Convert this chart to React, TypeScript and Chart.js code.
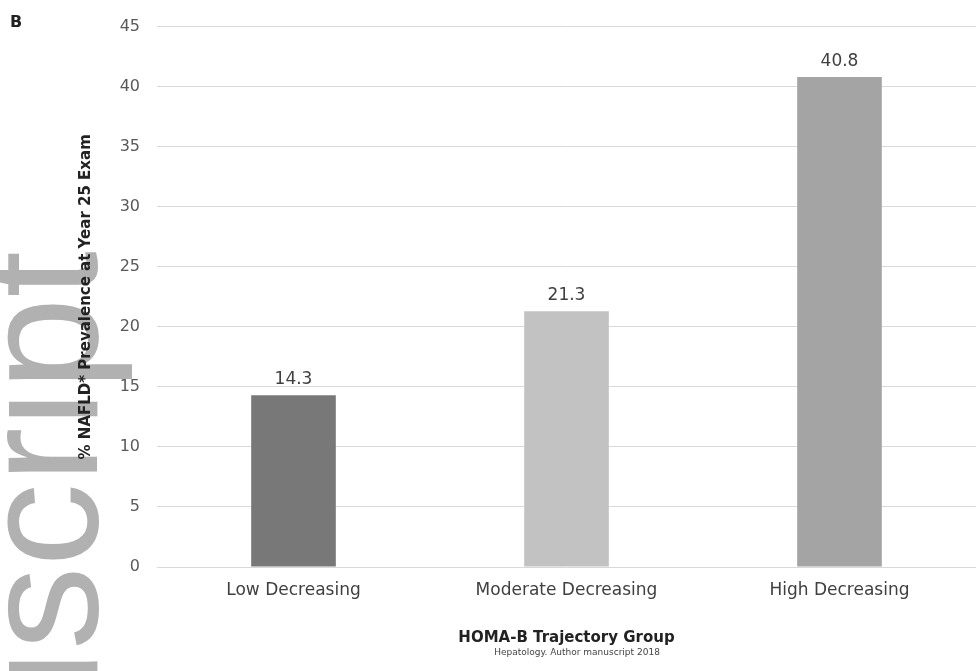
import React, { useEffect, useRef } from "react";
import { Chart, registerables } from "chart.js";

Chart.register(...registerables);

const categories = ["Low Decreasing", "Moderate Decreasing", "High Decreasing"];
const prevalence = [14.3, 21.3, 40.8];
const barColors = ["#787878", "#c2c2c2", "#a4a4a4"];
const yTitle = "% NAFLD* Prevalence at Year 25 Exam";
const xTitle = "HOMA-B Trajectory Group";
const footnote = "Hepatology. Author manuscript 2018";
const panelLabel = "B";
const watermark = "Manuscript";

const overlayPlugin = {
  id: "overlay",
  beforeDraw(chart: any) {
    const ctx = chart.ctx;
    ctx.save();
    ctx.font = "167px 'Liberation Sans', Arial, sans-serif";
    ctx.fillStyle = "#b1b1b1";
    const w = ctx.measureText("Manu").width;
    ctx.translate(97, 650 + w);
    ctx.rotate(-Math.PI / 2);
    ctx.textAlign = "left";
    ctx.textBaseline = "alphabetic";
    ctx.fillText(watermark, 0, 0);
    ctx.restore();
  },
  afterDraw(chart: any) {
    const ctx = chart.ctx;
    ctx.save();
    ctx.fillStyle = "#222";
    ctx.font = "bold 16px 'DejaVu Sans', sans-serif";
    ctx.textAlign = "left";
    ctx.textBaseline = "top";
    ctx.fillText(panelLabel, 10, 15);
    ctx.fillStyle = "#444";
    ctx.font = "9px 'DejaVu Sans', sans-serif";
    ctx.textAlign = "center";
    ctx.textBaseline = "middle";
    ctx.fillText(footnote, 577, 653);
    ctx.restore();
  },
  afterDatasetsDraw(chart: any) {
    const ctx = chart.ctx;
    const meta = chart.getDatasetMeta(0);
    ctx.save();
    ctx.fillStyle = "#404040";
    ctx.font = "17px 'DejaVu Sans', sans-serif";
    ctx.textAlign = "center";
    ctx.textBaseline = "alphabetic";
    meta.data.forEach((el: any, i: number) => {
      ctx.fillText(String(prevalence[i]), el.x, el.y - 11);
    });
    ctx.restore();
  },
};

export default function App() {
  const ref = useRef<HTMLCanvasElement | null>(null);
  useEffect(() => {
    if (!ref.current) return;
    const chart = new Chart(ref.current, {
      type: "bar",
      data: {
        labels: categories,
        datasets: [
          {
            data: prevalence,
            backgroundColor: barColors,
            borderWidth: 0,
            categoryPercentage: 1,
            barPercentage: 0.31,
          },
        ],
      },
      options: {
        animation: false,
        responsive: false,
        maintainAspectRatio: false,
        layout: { padding: { top: 26, right: 0, bottom: 0, left: 0 } },
        plugins: {
          legend: { display: false },
          tooltip: { enabled: false },
        },
        scales: {
          x: {
            grid: { display: false, drawTicks: false },
            border: { display: false },
            ticks: {
              color: "#404040",
              font: { family: "'DejaVu Sans', sans-serif", size: 17 },
              padding: 13,
              maxRotation: 0,
            },
            title: {
              display: true,
              text: xTitle,
              color: "#222",
              font: { family: "'DejaVu Sans', sans-serif", size: 15, weight: "bold" },
              padding: { top: 0, bottom: 24 },
            },
            afterFit(scale: any) {
              scale.height = 104;
            },
          },
          y: {
            min: 0,
            max: 45,
            grid: { color: "#d9d9d9", lineWidth: 1, drawTicks: false },
            border: { display: false },
            ticks: {
              stepSize: 5,
              color: "#595959",
              font: { family: "'DejaVu Sans', sans-serif", size: 16 },
              padding: 17,
            },
            title: {
              display: true,
              text: yTitle,
              color: "#222",
              font: { family: "'DejaVu Sans', sans-serif", size: 15, weight: "bold" },
              padding: { top: 77, bottom: 0 },
            },
            afterFit(scale: any) {
              scale.width = 157;
            },
          },
        },
      },
      plugins: [overlayPlugin],
    });
    return () => chart.destroy();
  }, []);
  return (
    <div style={{ position: "fixed", left: 0, top: 0, width: 976, height: 671, background: "#fff" }}>
      <canvas ref={ref} width={976} height={671} style={{ width: 976, height: 671, display: "block" }} />
    </div>
  );
}
